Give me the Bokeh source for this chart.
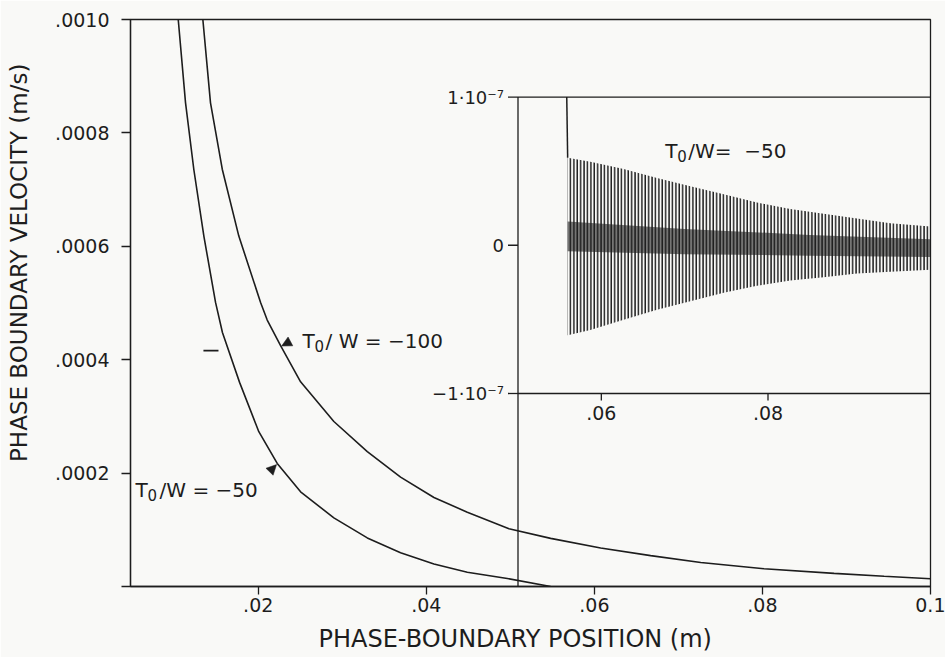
import math
from bokeh.plotting import figure
from bokeh.models import Range1d, FixedTicker, Arrow, NormalHead
from bokeh.core.properties import value
from bokeh.embed import file_html
from bokeh.resources import INLINE

# ---------------- data ----------------
# main plot: phase-boundary velocity (m/s) vs position (m)
x_m50 = [0.01048, 0.01135, 0.01234, 0.01353, 0.01492, 0.01574, 0.01778, 0.02007,
         0.02226, 0.02504, 0.02900, 0.03298, 0.03694, 0.04091, 0.04488, 0.04964, 0.05480]
y_m50 = [0.001000, 0.000853, 0.000735, 0.000618, 0.000501, 0.000448, 0.000360, 0.000273,
         0.000217, 0.000167, 0.000121, 0.0000857, 0.0000597, 0.0000396, 0.0000252, 0.0000141, 0.0]
x_m100 = [0.01341, 0.01432, 0.01572, 0.01769, 0.02028, 0.02107, 0.02266, 0.02504, 0.02900,
          0.03298, 0.03694, 0.04091, 0.04488, 0.04984, 0.05480, 0.06075, 0.06670, 0.07266,
          0.08019, 0.08853, 0.09448, 0.10000]
y_m100 = [0.001000, 0.000853, 0.000736, 0.000618, 0.000501, 0.000470, 0.000425, 0.000361,
          0.000291, 0.000238, 0.000193, 0.000157, 0.000131, 0.000102, 0.0000849, 0.0000678,
          0.0000545, 0.0000424, 0.0000313, 0.0000232, 0.0000180, 0.0000137]

x_tick_values = [0.02, 0.04, 0.06, 0.08, 0.1]
x_tick_labels = [".02", ".04", ".06", ".08", "0.1"]
y_tick_values = [0.0, 0.0002, 0.0004, 0.0006, 0.0008, 0.0010]
y_tick_labels = ["", ".0002", ".0004", ".0006", ".0008", ".0010"]
x_title = "PHASE-BOUNDARY POSITION (m)"
y_title = "PHASE BOUNDARY VELOCITY (m/s)"

# inset: T0/W = -50, zoomed
inset_x_lo, inset_x_hi = 0.05, 0.0995
inset_y_lo, inset_y_hi = -1.0e-7, 1.0e-7
inset_drop_x = [0.05585, 0.05596]
inset_drop_y = [1.0e-7, 0.59e-7]
env_x = [0.05596, 0.05868, 0.06268, 0.06668, 0.07068, 0.07468, 0.07868, 0.08268,
         0.08668, 0.09068, 0.09468, 0.09948]
env_upper = [0.590e-7, 0.563e-7, 0.515e-7, 0.453e-7, 0.398e-7, 0.344e-7, 0.288e-7,
             0.245e-7, 0.213e-7, 0.180e-7, 0.148e-7, 0.127e-7]
env_lower = [-0.607e-7, -0.572e-7, -0.503e-7, -0.435e-7, -0.377e-7, -0.320e-7, -0.273e-7,
             -0.238e-7, -0.215e-7, -0.190e-7, -0.178e-7, -0.165e-7]
band_x = [0.05596, 0.0700, 0.0850, 0.09948]
band_upper = [0.16e-7, 0.11e-7, 0.07e-7, 0.04e-7]
band_lower = [-0.04e-7, -0.06e-7, -0.07e-7, -0.08e-7]

inset_x_tick_values = [0.06, 0.08]
inset_x_tick_labels = [".06", ".08"]
inset_y_tick_values = [1.0e-7, 0.0, -1.0e-7]
inset_y_tick_labels = ["1\u00b710\u207b\u2077", "0", "\u22121\u00b710\u207b\u2077"]

# annotations
label_m100 = (0.02528, 0.000433, "/ W = \u2212100")
label_m50 = (0.00540, 0.0001695, "/W = \u221250")
label_inset = (0.06768, 0.634e-7, "/W=\u00a0 \u221250")
arrow_m100 = (0.02456, 0.000438, 0.02278, 0.000424)
arrow_m50 = (0.02099, 0.000197, 0.02218, 0.000215)
stray_dash = (0.01348, 0.01527, 0.000416)

# ---------------- styling ----------------
BG = "#f9f9f7"
INK = "#1d1d1d"
FONT = "DejaVu Sans"
NB = "\u00a0"

p = figure(width=945, height=657,
           x_range=Range1d(0.0048, 0.1), y_range=Range1d(0.0, 0.001),
           output_backend="svg", toolbar_location=None,
           min_border_left=130, min_border_right=15, min_border_top=19, min_border_bottom=71,
           background_fill_color=BG, border_fill_color=BG,
           outline_line_color=INK, outline_line_width=1.3)
p.extra_x_ranges = {"ix": Range1d(0.0035, 0.0995)}
p.extra_y_ranges = {"iy": Range1d(-2.302e-7, 1.523e-7)}
p.grid.visible = False

for ax in (p.xaxis[0], p.yaxis[0]):
    ax.major_tick_in = 0
    ax.minor_tick_in = 0
    ax.minor_tick_out = 0
    ax.axis_line_color = INK
    ax.axis_line_width = 1.3
    ax.major_tick_line_color = INK
    ax.major_tick_line_width = 1.3
    ax.major_label_text_font = FONT
    ax.major_label_text_font_size = "19px"
    ax.major_label_text_color = INK
    ax.axis_label_text_font = FONT
    ax.axis_label_text_font_style = "normal"
    ax.axis_label_text_color = INK

p.xaxis.ticker = FixedTicker(ticks=x_tick_values)
p.xaxis.major_label_overrides = dict(zip(x_tick_values, x_tick_labels))
p.xaxis.major_tick_out = 8
p.xaxis.major_label_standoff = 3
# the original title sits a little left of centre: pad the end
p.xaxis.axis_label = x_title + NB * 4
p.xaxis.axis_label_text_font_size = "24px"
p.xaxis.axis_label_standoff = 10

p.yaxis.ticker = FixedTicker(ticks=y_tick_values)
p.yaxis.major_label_overrides = dict(zip(y_tick_values, y_tick_labels))
p.yaxis.major_tick_out = 9
p.yaxis.major_label_standoff = 12
# the original title sits above centre: pad the start
p.yaxis.axis_label = NB * 11 + y_title
p.yaxis.axis_label_text_font_size = "23px"
p.yaxis.axis_label_standoff = 20

# main curves
p.line(x_m50, y_m50, line_color=INK, line_width=1.6)
p.line(x_m100, y_m100, line_color=INK, line_width=1.6)

# inset frame
IR = dict(x_range_name="ix", y_range_name="iy")
p.line([inset_x_lo, inset_x_hi], [inset_y_hi, inset_y_hi], line_color=INK, line_width=1.3, **IR)
p.line([inset_x_lo, inset_x_hi], [inset_y_lo, inset_y_lo], line_color=INK, line_width=1.3, **IR)
p.line([inset_x_lo, inset_x_lo], [inset_y_hi, p.extra_y_ranges["iy"].start],
       line_color=INK, line_width=1.3, **IR)
p.ray(x=[inset_x_lo] * len(inset_y_tick_values), y=inset_y_tick_values, length=10,
      length_units="screen", angle=math.pi, line_color=INK, line_width=1.3, **IR)
p.ray(x=inset_x_tick_values, y=[inset_y_lo] * len(inset_x_tick_values), length=7,
      length_units="screen", angle=-math.pi / 2, line_color=INK, line_width=1.3, **IR)
p.text(x=[inset_x_lo] * len(inset_y_tick_values), y=inset_y_tick_values,
       text=inset_y_tick_labels, x_offset=-14, text_align="right", text_baseline="middle",
       text_font=value(FONT), text_font_size="18px", text_color=INK, **IR)
p.text(x=inset_x_tick_values, y=[inset_y_lo] * len(inset_x_tick_values),
       text=inset_x_tick_labels, y_offset=13, text_align="center", text_baseline="top",
       text_font=value(FONT), text_font_size="19px", text_color=INK, **IR)

# inset data: velocity drop and damped oscillation
p.line(inset_drop_x, inset_drop_y, line_color=INK, line_width=1.5, **IR)
p.varea(x=env_x, y1=env_lower, y2=env_upper, fill_alpha=0,
        hatch_pattern="|", hatch_scale=3.4, hatch_weight=1.5, hatch_color=INK, **IR)
p.varea(x=band_x, y1=band_lower, y2=band_upper, fill_color=INK, fill_alpha=0.6, **IR)


def t0_label(anchor, size, sub_off, rest_off, **kw):
    x, y, rest = anchor
    common = dict(text_align="left", text_baseline="alphabetic",
                  text_font=value(FONT), text_color=INK, **kw)
    p.text(x=[x], y=[y], text=["T"], text_font_size=f"{size}px", **common)
    p.text(x=[x], y=[y], text=["0"], x_offset=sub_off, y_offset=5,
           text_font_size=f"{int(size * 0.78)}px", **common)
    p.text(x=[x], y=[y], text=[rest], x_offset=rest_off, text_font_size=f"{size}px", **common)


t0_label(label_m100, 20, 12, 23)
t0_label(label_m50, 20, 12, 24)
t0_label(label_inset, 20, 12, 23, **IR)

for (xs, ys, xe, ye) in (arrow_m100, arrow_m50):
    p.add_layout(Arrow(end=NormalHead(size=10, fill_color=INK, line_color=INK, line_width=0.5),
                       x_start=xs, y_start=ys, x_end=xe, y_end=ye, line_alpha=0))

p.segment(x0=[stray_dash[0]], x1=[stray_dash[1]], y0=[stray_dash[2]], y1=[stray_dash[2]],
          line_color=INK, line_width=1.8)

open("out.html", "w").write(file_html(p, INLINE))
